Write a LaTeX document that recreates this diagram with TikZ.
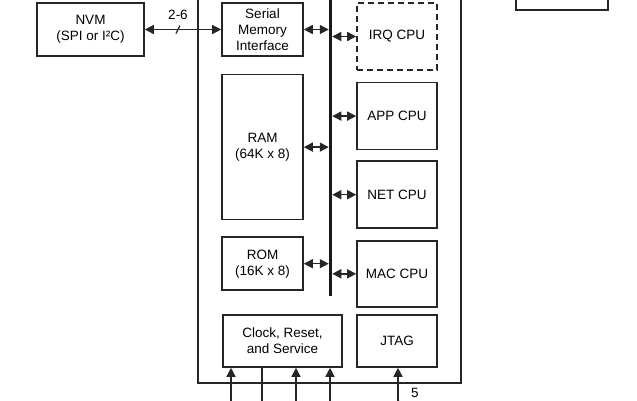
\documentclass[tikz,border=0pt]{standalone}
\usepackage{fontspec}
\setmainfont{Liberation Sans}
\usetikzlibrary{arrows.meta, positioning}

\begin{document}
\begin{tikzpicture}[x=1pt, y=-1pt,
    block/.style={draw=black!85, line width=1.6pt, rectangle, align=center, inner sep=0pt,
      font=\fontsize{13.5}{16}\selectfont},
    link/.style={{Triangle[length=9pt,width=9pt]}-{Triangle[length=9pt,width=9pt]},
      draw=black!85, line width=1.5pt},
    uplink/.style={-{Triangle[length=9pt,width=9pt]}, draw=black!85, line width=1.5pt},
    lbl/.style={font=\fontsize{13.5}{16}\selectfont, inner sep=0pt}]
    \useasboundingbox (0,0) rectangle (637,400);
    \clip (0,0) rectangle (637,400);

    \node[block, minimum width=263pt, minimum height=403pt] (chip) at (329.5,181.5) {};
    \node[block, minimum width=92pt, minimum height=30pt] (ext) at (562,-5) {};

    \node[block, minimum width=107pt, minimum height=53pt] (nvm) at (90.5,29.5) {NVM\\(SPI or I²C)};
    \node[block, minimum width=81pt, minimum height=53pt] (smi) at (262.5,29.5) {Serial\\Memory\\Interface};
    \node[block, minimum width=81pt, minimum height=145pt, below = 17pt of smi] (ram) {RAM\\(64K x 8)};
    \node[block, minimum width=81pt, minimum height=53pt, below = 16pt of ram] (rom) {ROM\\(16K x 8)};

    \node[block, dash pattern=on 6pt off 4pt, minimum width=80pt, minimum height=67pt] (irq) at (397,36.5) {IRQ CPU};
    \node[block, minimum width=80pt, minimum height=67pt, below = 11pt of irq] (app) {APP CPU};
    \node[block, minimum width=80pt, minimum height=67pt, below = 10pt of app] (net) {NET CPU};
    \node[block, minimum width=80pt, minimum height=66pt, below = 11pt of net] (mac) {MAC CPU};

    \node[block, minimum width=119pt, minimum height=52pt] (clk) at (282.5,341) {Clock, Reset,\\and Service};
    \node[block, minimum width=80pt, minimum height=52pt] (jtag) at (397,341) {JTAG};

    \coordinate (bustop) at (330.5,-5);
    \coordinate (busbot) at (330.5,296);
    \draw[black!90, line width=3.5pt] (bustop) -- (busbot);

    \draw[link] (nvm) -- node[lbl, midway, above = 9pt, xshift=-5pt] {2-6} node[midway, xshift=-5pt] (tick) {} (smi);
    \draw[black!85, line width=1.2pt] ([xshift=-2pt,yshift=-4pt]tick.center) -- ++(4pt,8pt);

    \draw[link, shorten >=1.75pt] (smi) -- (smi -| bustop);
    \draw[link, shorten >=1.75pt] (ram) -- (ram -| bustop);
    \draw[link, shorten >=1.75pt] (rom) -- (rom -| bustop);
    \draw[link, shorten <=1.75pt] (irq -| bustop) -- (irq);
    \draw[link, shorten <=1.75pt] (app -| bustop) -- (app);
    \draw[link, shorten <=1.75pt] (net -| bustop) -- (net);
    \draw[link, shorten <=1.75pt] (mac -| bustop) -- (mac);

    \coordinate (in1) at (231,402);
    \coordinate (out1) at (262,402);
    \coordinate (in2) at (296,402);
    \coordinate (in3) at (330,402);
    \coordinate (jin) at (398,402);
    \draw[uplink] (in1) -- (in1 |- clk.south);
    \draw[black!85, line width=1.5pt] (out1 |- clk.south) -- (out1);
    \draw[uplink] (in2) -- (in2 |- clk.south);
    \draw[uplink] (in3) -- (in3 |- clk.south);
    \draw[uplink] (jin) -- (jin |- jtag.south);
    \draw[black!85, line width=1.2pt] ([xshift=-2pt,yshift=-7pt]jin) -- ++(4pt,8pt);
    \node[lbl, anchor=north west] (jn) at (411,388) {5};
\end{tikzpicture}
\end{document}
